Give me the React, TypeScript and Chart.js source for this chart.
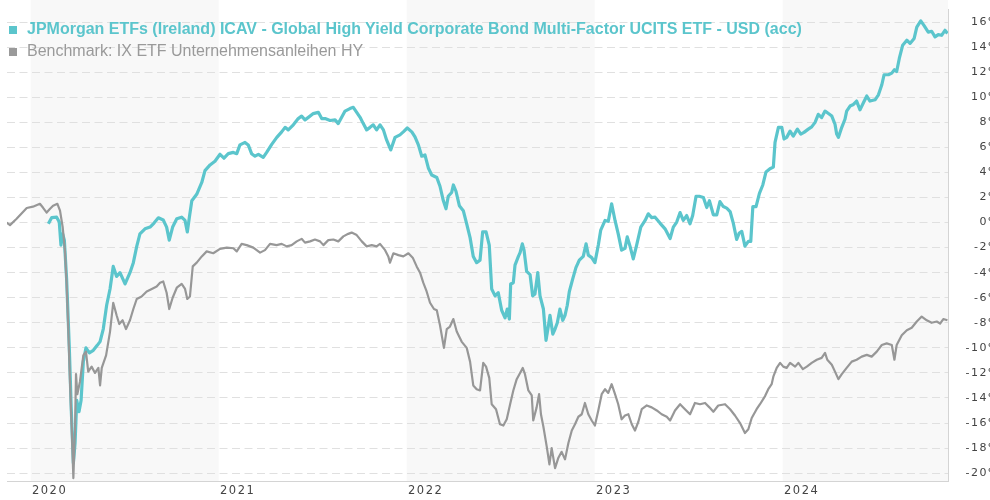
import React, { useEffect, useRef } from 'react';
import { Chart, registerables } from 'chart.js';

Chart.register(...registerables);

const fundName = 'JPMorgan ETFs (Ireland) ICAV - Global High Yield Corporate Bond Multi-Factor UCITS ETF - USD (acc)';
const benchName = 'Benchmark: IX ETF Unternehmensanleihen HY';

const xTickYears = [2020, 2021, 2022, 2023, 2024];
const shadedYears = [2020, 2022, 2024];
const yTickValues = [-20, -18, -16, -14, -12, -10, -8, -6, -4, -2, 0, 2, 4, 6, 8, 10, 12, 14, 16];
const xMin = 2019.874;
const xMax = 2024.879;
const yMin = -20.7;
const yMax = 17;

const fundTimes = [
  2020.094, 2020.112, 2020.138, 2020.152, 2020.161, 2020.170, 2020.179, 2020.191, 2020.205, 2020.216,
  2020.227, 2020.236, 2020.245, 2020.257, 2020.268, 2020.280, 2020.294, 2020.312, 2020.333, 2020.354,
  2020.369, 2020.386, 2020.404, 2020.422, 2020.439, 2020.457, 2020.475, 2020.502, 2020.528, 2020.546,
  2020.564, 2020.581, 2020.608, 2020.635, 2020.656, 2020.679, 2020.705, 2020.723, 2020.737, 2020.755,
  2020.777, 2020.803, 2020.821, 2020.833, 2020.844, 2020.857, 2020.883, 2020.910, 2020.927, 2020.954,
  2020.980, 2021.007, 2021.028, 2021.051, 2021.078, 2021.096, 2021.113, 2021.140, 2021.157, 2021.175,
  2021.193, 2021.211, 2021.237, 2021.255, 2021.282, 2021.309, 2021.335, 2021.353, 2021.370, 2021.397,
  2021.423, 2021.441, 2021.459, 2021.477, 2021.503, 2021.530, 2021.548, 2021.566, 2021.592, 2021.619,
  2021.636, 2021.654, 2021.672, 2021.698, 2021.716, 2021.734, 2021.752, 2021.769, 2021.787, 2021.805,
  2021.822, 2021.840, 2021.858, 2021.876, 2021.893, 2021.915, 2021.938, 2021.964, 2021.982, 2022.003,
  2022.027, 2022.044, 2022.062, 2022.080, 2022.097, 2022.115, 2022.133, 2022.160, 2022.177, 2022.195,
  2022.209, 2022.221, 2022.239, 2022.248, 2022.262, 2022.280, 2022.301, 2022.319, 2022.337, 2022.354,
  2022.372, 2022.390, 2022.404, 2022.422, 2022.439, 2022.452, 2022.470, 2022.487, 2022.505, 2022.523,
  2022.535, 2022.546, 2022.553, 2022.567, 2022.576, 2022.594, 2022.603, 2022.615, 2022.624, 2022.638,
  2022.656, 2022.670, 2022.682, 2022.697, 2022.709, 2022.727, 2022.741, 2022.753, 2022.762, 2022.777,
  2022.789, 2022.801, 2022.815, 2022.830, 2022.842, 2022.854, 2022.865, 2022.883, 2022.900, 2022.918,
  2022.939, 2022.954, 2022.966, 2022.984, 2023.001, 2023.019, 2023.032, 2023.055, 2023.072, 2023.090,
  2023.108, 2023.125, 2023.143, 2023.161, 2023.173, 2023.188, 2023.205, 2023.223, 2023.245, 2023.268,
  2023.285, 2023.303, 2023.321, 2023.347, 2023.374, 2023.401, 2023.418, 2023.436, 2023.454, 2023.471,
  2023.489, 2023.507, 2023.521, 2023.539, 2023.556, 2023.578, 2023.596, 2023.610, 2023.631, 2023.649,
  2023.666, 2023.684, 2023.702, 2023.720, 2023.737, 2023.755, 2023.769, 2023.782, 2023.799, 2023.817,
  2023.830, 2023.841, 2023.858, 2023.876, 2023.894, 2023.911, 2023.932, 2023.950, 2023.959, 2023.977,
  2023.995, 2024.007, 2024.021, 2024.039, 2024.056, 2024.078, 2024.096, 2024.113, 2024.136, 2024.154,
  2024.172, 2024.189, 2024.207, 2024.225, 2024.243, 2024.261, 2024.278, 2024.287, 2024.296, 2024.314,
  2024.331, 2024.340, 2024.358, 2024.376, 2024.393, 2024.411, 2024.429, 2024.447, 2024.464, 2024.491,
  2024.509, 2024.527, 2024.539, 2024.562, 2024.580, 2024.594, 2024.606, 2024.620, 2024.638, 2024.660,
  2024.677, 2024.699, 2024.713, 2024.734, 2024.751, 2024.774, 2024.792, 2024.810, 2024.827, 2024.845,
  2024.863, 2024.876,
];

const fundValues = [
  -0.1, 0.4, 0.43, 0.04, -1.8, -0.9, -1.4, -4.5, -9.8, -15,
  -19.2, -17.6, -14.2, -15.1, -14.2, -11.1, -10.0, -10.4, -10.2, -9.8,
  -9.5, -8.5, -6.6, -5.3, -3.5, -4.3, -4.0, -4.9, -4.0, -3.2,
  -1.9, -0.9, -0.5, -0.36, -0.04, 0.38, 0.2, -0.36, -1.4, -0.36,
  0.3, 0.43, 0.17, -0.75, 0.43, 1.74, 2.26, 3.2, 4.15, 4.6,
  4.9, 5.45, 5.14, 5.5, 5.6, 5.5, 6.2, 6.4, 6.2, 5.5,
  5.3, 5.45, 5.2, 5.6, 6.24, 6.8, 7.24, 7.6, 7.4, 7.8,
  8.3, 8.5, 8.2, 8.4, 8.7, 8.8, 8.3, 8.3, 8.15, 8.2,
  7.9, 8.4, 8.9, 9.1, 9.2, 8.8, 8.4, 7.9, 7.4, 7.6,
  7.8, 7.4, 7.8, 7.4, 6.6, 5.8, 6.8, 7.0, 7.24, 7.55,
  7.24, 6.84, 6.2, 5.3, 5.4, 4.36, 3.8, 3.6, 2.9, 1.74,
  1.1, 2.1, 2.4, 3.0, 2.5, 1.35, 0.95, -0.1, -1.2, -2.7,
  -3.2, -3.0, -0.75, -0.75, -1.8, -5.3, -5.85, -5.6, -7.0, -7.6,
  -6.9, -7.7, -4.9, -4.8, -3.4, -2.7, -2.4, -1.7, -2.2, -3.9,
  -4.15, -5.85, -5.7, -4.0, -5.85, -6.9, -9.4, -8.3, -7.4, -8.9,
  -8.5, -8.0, -6.9, -7.8, -7.4, -6.6, -5.5, -4.5, -3.6, -3.0,
  -2.7, -1.7, -2.6, -2.8, -3.2, -1.8, -0.6, 0.17, 0.1, 1.5,
  0.17, -0.9, -2.2, -2.06, -1.14, -1.9, -2.9, -1.8, -0.36, 0.17,
  0.7, 0.4, 0.43, -0.04, -0.5, -1.27, -0.36, 0.04, 0.8, 0.17,
  0.56, -0.1, 0.56, 2.1, 2.1, 2.0, 1.2, 1.74, 0.62, 0.62,
  1.67, 1.28, 1.15, 0.88, -0.04, -1.35, -0.83, -0.7, -1.88, -1.5,
  -1.5, 1.28, 1.28, 2.33, 3.0, 4.04, 4.3, 4.43, 6.4, 7.6,
  7.6, 6.67, 6.8, 7.3, 6.9, 7.46, 7.06, 7.2, 7.46, 7.64,
  8.0, 8.64, 8.38, 8.9, 8.7, 8.5, 7.85, 7.06, 6.8, 7.6,
  8.25, 8.9, 9.3, 9.43, 9.7, 9.0, 9.56, 10.1, 9.7, 9.8,
  10.2, 11.0, 11.8, 11.8, 11.93, 12.2, 12.06, 13.1, 14.16, 14.56,
  14.3, 14.7, 15.6, 16.1, 15.74, 15.2, 15.27, 14.82, 15.0, 14.95,
  15.35, 15.1,
];

const benchTimes = [
  2019.872, 2019.890, 2019.925, 2019.979, 2020.012, 2020.049, 2020.065, 2020.085, 2020.103, 2020.119,
  2020.142, 2020.156, 2020.170, 2020.182, 2020.191, 2020.200, 2020.209, 2020.218, 2020.227, 2020.236,
  2020.241, 2020.248, 2020.262, 2020.280, 2020.294, 2020.306, 2020.324, 2020.342, 2020.360, 2020.369,
  2020.378, 2020.401, 2020.422, 2020.439, 2020.457, 2020.471, 2020.489, 2020.507, 2020.528, 2020.546,
  2020.564, 2020.590, 2020.617, 2020.644, 2020.670, 2020.688, 2020.705, 2020.723, 2020.737, 2020.755,
  2020.777, 2020.803, 2020.821, 2020.833, 2020.847, 2020.862, 2020.883, 2020.910, 2020.936, 2020.971,
  2021.007, 2021.043, 2021.078, 2021.096, 2021.122, 2021.149, 2021.184, 2021.220, 2021.246, 2021.273,
  2021.308, 2021.335, 2021.362, 2021.388, 2021.415, 2021.441, 2021.459, 2021.486, 2021.512, 2021.539,
  2021.557, 2021.583, 2021.610, 2021.636, 2021.663, 2021.689, 2021.707, 2021.734, 2021.761, 2021.787,
  2021.814, 2021.840, 2021.858, 2021.885, 2021.902, 2021.911, 2021.929, 2021.956, 2021.982, 2022.009,
  2022.032, 2022.053, 2022.071, 2022.088, 2022.106, 2022.124, 2022.145, 2022.160, 2022.177, 2022.198,
  2022.213, 2022.230, 2022.248, 2022.266, 2022.292, 2022.319, 2022.337, 2022.354, 2022.372, 2022.390,
  2022.407, 2022.422, 2022.439, 2022.452, 2022.475, 2022.496, 2022.514, 2022.532, 2022.550, 2022.567,
  2022.585, 2022.603, 2022.617, 2022.629, 2022.647, 2022.665, 2022.673, 2022.691, 2022.704, 2022.714,
  2022.727, 2022.745, 2022.759, 2022.771, 2022.789, 2022.806, 2022.824, 2022.842, 2022.860, 2022.878,
  2022.895, 2022.913, 2022.931, 2022.948, 2022.966, 2022.984, 2023.001, 2023.019, 2023.037, 2023.055,
  2023.072, 2023.090, 2023.108, 2023.125, 2023.143, 2023.161, 2023.179, 2023.197, 2023.214, 2023.232,
  2023.250, 2023.277, 2023.303, 2023.330, 2023.356, 2023.383, 2023.401, 2023.427, 2023.454, 2023.480,
  2023.507, 2023.533, 2023.560, 2023.587, 2023.610, 2023.631, 2023.657, 2023.693, 2023.720, 2023.746,
  2023.773, 2023.799, 2023.817, 2023.835, 2023.861, 2023.879, 2023.906, 2023.923, 2023.941, 2023.950,
  2023.968, 2023.986, 2024.003, 2024.021, 2024.039, 2024.066, 2024.083, 2024.107, 2024.128, 2024.154,
  2024.181, 2024.207, 2024.225, 2024.237, 2024.261, 2024.278, 2024.296, 2024.314, 2024.340, 2024.367,
  2024.393, 2024.420, 2024.447, 2024.473, 2024.500, 2024.527, 2024.553, 2024.580, 2024.594, 2024.606,
  2024.633, 2024.660, 2024.686, 2024.713, 2024.739, 2024.766, 2024.792, 2024.819, 2024.837, 2024.854,
  2024.876,
];

const benchValues = [
  0, -0.2, 0.3, 1.16, 1.27, 1.5, 1.2, 0.8, 1.1, 1.35,
  1.5, 0.95, -0.35, -2.2, -4.8, -8.5, -12.7, -16.3, -20.4, -16.3,
  -12.1, -13.7, -12.7, -10.6, -10.3, -11.9, -11.5, -12, -11.6, -13,
  -11.6, -10.6, -8.7, -6.4, -7.4, -8.1, -7.8, -8.5, -7.8, -6.9,
  -6.1, -5.9, -5.5, -5.3, -5.1, -4.8, -4.7, -5.6, -6.9, -6.0,
  -5.2, -4.9, -5.3, -6.1, -5.9, -3.5, -3.2, -2.7, -2.3, -2.45,
  -2.1, -2.0, -2.05, -2.3, -1.7, -1.8, -2.0, -2.4, -2.2, -1.7,
  -1.8, -1.7, -1.9, -1.8, -1.5, -1.3, -1.6, -1.5, -1.35, -1.5,
  -1.8, -1.4, -1.35, -1.5, -1.1, -0.9, -0.8, -1.0, -1.5, -1.9,
  -1.8, -1.9, -1.7, -2.2, -2.7, -3.2, -2.45, -2.6, -2.7, -2.45,
  -2.8, -3.5, -4.0, -4.8, -5.5, -6.4, -6.9, -7.0, -8.2, -10.0,
  -8.5, -8.3, -7.7, -8.7, -9.5, -10.0, -11.1, -13.0, -13.3, -13.4,
  -11.2, -11.5, -12.4, -14.5, -14.9, -16.1, -16.2, -15.7, -14.5, -13.4,
  -12.5, -12.0, -11.6, -12.1, -13.4, -13.8, -15.8, -14.75, -13.7, -15.3,
  -16.3, -17.9, -19.3, -18.0, -19.6, -18.8, -18.3, -18.9, -17.6, -16.6,
  -16.1, -15.5, -15.3, -14.4, -15.3, -15.8, -16.2, -15.0, -13.7, -13.3,
  -13.6, -12.9, -13.7, -14.5, -15.7, -15.4, -15.3, -16.1, -16.6, -15.9,
  -14.9, -14.6, -14.75, -15.0, -15.3, -15.5, -15.8, -15.0, -14.5, -14.9,
  -15.3, -14.4, -14.5, -14.4, -14.75, -15.1, -14.6, -14.5, -14.9, -15.4,
  -16.0, -16.8, -16.5, -15.6, -14.9, -14.5, -13.85, -13.3, -12.9, -12.3,
  -11.6, -11.2, -11.5, -11.6, -11.2, -11.5, -11.2, -11.7, -11.5, -11.2,
  -10.95, -10.8, -10.4, -10.95, -11.35, -11.9, -12.5, -12.1, -11.6, -11.1,
  -10.95, -10.7, -10.56, -10.7, -10.3, -9.77, -9.64, -9.77, -10.95, -9.77,
  -9.0, -8.6, -8.4, -7.9, -7.5, -7.8, -8.0, -7.9, -8.06, -7.7,
  -7.8,
];

const TEAL = '#5bc5cc';
const GREY = '#979797';

const yearBandPlugin = {
  id: 'yearBands',
  beforeDraw(chart: any) {
    const { ctx, chartArea, scales } = chart;
    const x = scales.x;
    ctx.save();
    ctx.fillStyle = '#f8f8f8';
    shadedYears.forEach((yr) => {
      const x0 = Math.max(x.getPixelForValue(yr), chartArea.left);
      const x1 = Math.min(x.getPixelForValue(yr + 1), chartArea.right);
      if (x1 > x0) ctx.fillRect(x0, 0, x1 - x0, chartArea.bottom);
    });
    ctx.restore();
  },
};

const letterSpacingPlugin = {
  id: 'letterSpacing',
  beforeUpdate(chart: any) {
    chart.ctx.letterSpacing = '1.5px';
  },
  beforeDraw(chart: any) {
    chart.ctx.letterSpacing = '1.5px';
  },
};

export default function App() {
  const canvasRef = useRef<HTMLCanvasElement | null>(null);

  useEffect(() => {
    const canvas = canvasRef.current;
    if (!canvas) return;
    const chart = new Chart(canvas, {
      type: 'line',
      data: {
        datasets: [
          {
            label: fundName,
            data: fundTimes.map((t, i) => ({ x: t, y: fundValues[i] })),
            borderColor: TEAL,
            backgroundColor: TEAL,
            borderWidth: 3.2,
            pointRadius: 0,
            tension: 0,
            borderJoinStyle: 'round',
            order: 1,
          },
          {
            label: benchName,
            data: benchTimes.map((t, i) => ({ x: t, y: benchValues[i] })),
            borderColor: GREY,
            backgroundColor: GREY,
            borderWidth: 2.2,
            pointRadius: 0,
            tension: 0,
            borderJoinStyle: 'round',
            order: 0,
          },
        ],
      },
      options: {
        responsive: false,
        animation: false,
        devicePixelRatio: 1,
        layout: { padding: { left: 7, top: 4, right: 0, bottom: 0 } },
        plugins: {
          legend: { display: false },
          tooltip: { enabled: false },
        },
        scales: {
          x: {
            type: 'linear',
            min: xMin,
            max: xMax,
            afterBuildTicks: (s: any) => {
              s.ticks = xTickYears.map((v) => ({ value: v }));
            },
            afterFit: (s: any) => {
              s.height = 18.1;
            },
            grid: { display: false, drawTicks: false },
            border: { display: true, color: '#d4d4d4', width: 1 },
            ticks: {
              align: 'start',
              labelOffset: 1.3,
              padding: 2,
              autoSkip: false,
              maxRotation: 0,
              color: '#444',
              font: { family: 'DejaVu Sans', size: 11.5 },
              callback: (v: any) => String(v),
            },
          },
          y: {
            type: 'linear',
            position: 'right',
            min: yMin,
            max: yMax,
            afterBuildTicks: (s: any) => {
              s.ticks = yTickValues.map((v) => ({ value: v }));
            },
            afterFit: (s: any) => {
              s.width = 52;
            },
            grid: { color: '#e0e0e0', lineWidth: 1, drawTicks: false },
            border: { display: true, color: '#d4d4d4', width: 1, dash: [8, 4.5] },
            ticks: {
              crossAlign: 'far',
              padding: 3,
              color: '#444',
              font: { family: 'DejaVu Sans', size: 11 },
              callback: (v: any) => v + '%',
            },
          },
        },
      } as any,
      plugins: [letterSpacingPlugin, yearBandPlugin],
    });
    return () => chart.destroy();
  }, []);

  const lineStyle: React.CSSProperties = {
    position: 'absolute',
    left: 9,
    whiteSpace: 'nowrap',
    fontFamily: '"Liberation Sans", Arial, sans-serif',
    fontSize: 16,
    lineHeight: '18px',
  };
  const square = (c: string): React.CSSProperties => ({
    display: 'inline-block',
    width: 8,
    height: 8,
    background: c,
    marginRight: 10,
    verticalAlign: 'baseline',
  });

  return (
    <div style={{ position: 'absolute', left: 0, top: 0, width: 990, height: 500, overflow: 'hidden', background: '#fff' }}>
      <canvas ref={canvasRef} width={1000} height={500} style={{ position: 'absolute', left: 0, top: 0, width: 1000, height: 500 }} />
      <div style={{ ...lineStyle, top: 20, color: TEAL, fontWeight: 'bold' }}>
        <span style={square(TEAL)} />
        {fundName}
      </div>
      <div style={{ ...lineStyle, top: 42.4, color: '#9a9a9a' }}>
        <span style={square('#9a9a9a')} />
        {benchName}
      </div>
    </div>
  );
}
